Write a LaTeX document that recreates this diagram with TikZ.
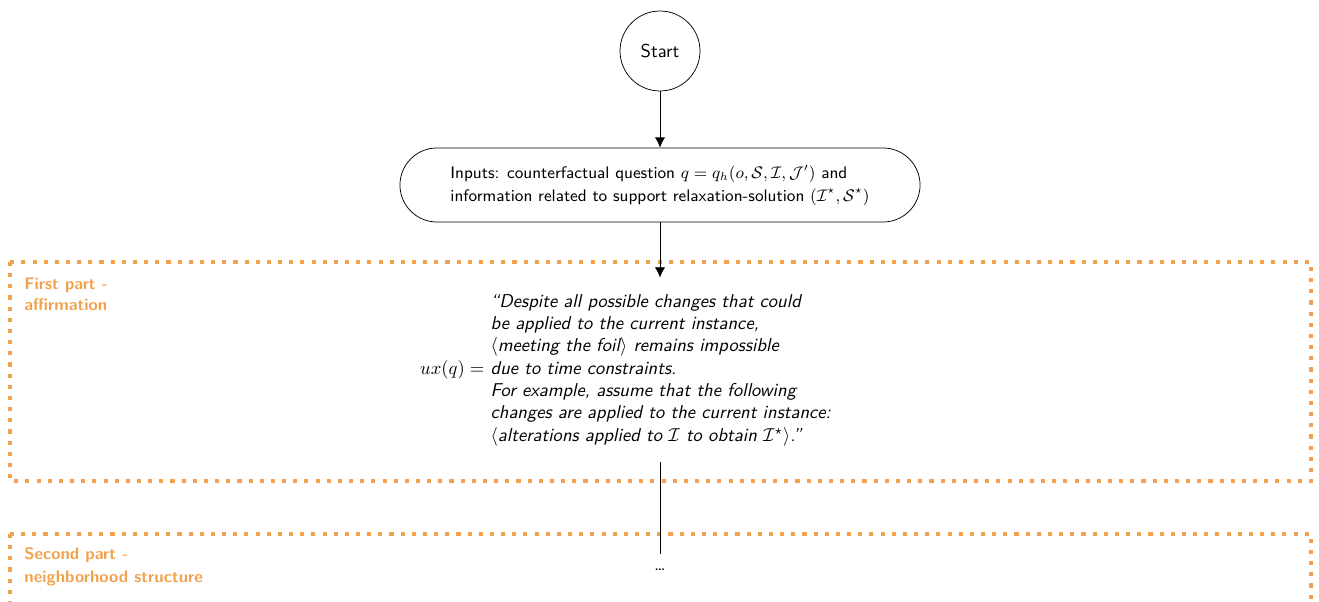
\RequirePackage{fix-cm}
\documentclass[tikz,border=0pt]{standalone}
\usepackage{amsmath,amssymb}
\usetikzlibrary{arrows.meta}
\renewcommand{\familydefault}{\sfdefault}
\definecolor{partorange}{RGB}{240,162,76}
\tikzset{
  startnode/.style={circle,draw,minimum size=43pt,inner sep=0pt},
  inputbox/.style={draw,rectangle,rounded corners=19.9pt,minimum width=279.6pt,minimum height=39.8pt,align=left,font=\fontsize{9pt}{12.3pt}\selectfont},
  formula/.style={inner sep=1pt,minimum height=99pt},
  arr/.style={-{Latex[length=5.5pt,width=5.5pt]}},
  partbox/.style={draw=partorange,line width=2pt,dash pattern=on 2.2pt off 3.8pt},
  partlabel/.style={font=\small\bfseries,text=partorange,align=left,inner sep=0pt,anchor=north west},
}
\begin{document}
\begin{tikzpicture}[x=0.5376pt,y=-0.5376pt]
\useasboundingbox (0,0) rectangle (1319,601);
% part frames
\draw[partbox] (10,262) rectangle (1311,481);
\draw[partbox] (10,534) -- (1311,534) -- (1311,640) (10,534) -- (10,640);
\node[partlabel] (lblA) at (24,278) {First part -\\affirmation};
\node[partlabel] (lblB) at (24,547) {Second part -\\[1.5pt]neighborhood structure};
% flow
\node[startnode] (start) at (660,51) {Start};
\node[inputbox] (inputs) at (660,185) {Inputs: counterfactual question $q = q_h(o,\mathcal{S},\mathcal{I},\mathcal{J}')$ and\\information related to support relaxation-solution $(\mathcal{I}^\star,\mathcal{S}^\star)$};
\node[formula] (ux) at (660,370) {$ux(q) = $ \parbox[c]{220pt}{\raggedright\itshape
``Despite all possible changes that could\\
be applied to the current instance,\\
$\langle$meeting the foil$\rangle$ remains impossible\\
due to time constraints.\\
For example, assume that the following\\
changes are applied to the current instance:\\
$\langle$alterations applied to $\mathcal{I}$ to obtain $\mathcal{I}^\star\rangle$.''}};
\node[inner sep=0pt] (dots) at (660,566) {\strut\dots};
\draw[arr] (start) -- (inputs);
\draw[arr] (inputs) -- (ux);
\draw (ux) -- (dots);
\end{tikzpicture}
\end{document}
